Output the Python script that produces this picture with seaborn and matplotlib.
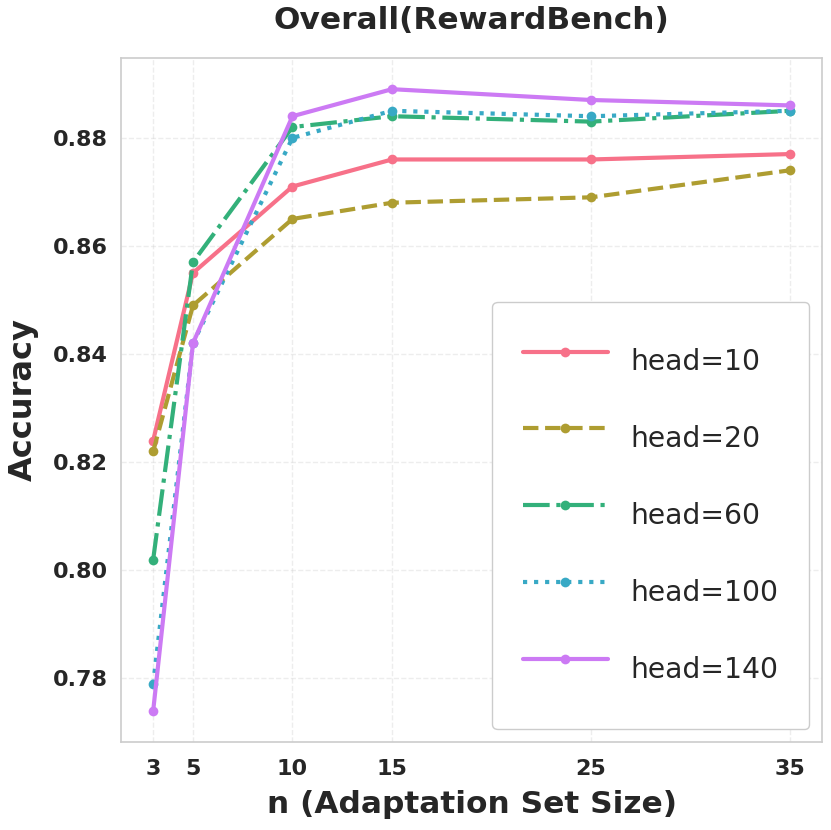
import matplotlib
matplotlib.use("Agg")
import matplotlib.pyplot as plt
import seaborn as sns
import pandas as pd

n_values = [3, 5, 10, 15, 25, 35]
heads = ["head=10", "head=20", "head=60", "head=100", "head=140"]
acc_head10 = [0.824, 0.855, 0.871, 0.876, 0.876, 0.877]
acc_head20 = [0.822, 0.849, 0.865, 0.868, 0.869, 0.874]
acc_head60 = [0.802, 0.857, 0.882, 0.884, 0.883, 0.885]
acc_head100 = [0.779, 0.842, 0.880, 0.885, 0.884, 0.885]
acc_head140 = [0.774, 0.842, 0.884, 0.889, 0.887, 0.886]

series = [acc_head10, acc_head20, acc_head60, acc_head100, acc_head140]
rows = []
for h, vals in zip(heads, series):
    for n, v in zip(n_values, vals):
        rows.append({"n": n, "acc": v, "head": h})
df = pd.DataFrame(rows)

sns.set_theme(style="whitegrid")
plt.rcParams["grid.linestyle"] = "--"
plt.rcParams["grid.alpha"] = 0.35

fig, ax = plt.subplots(figsize=(8.31, 8.30), dpi=100)
palette = sns.color_palette("husl", 5)
styles = ["-", "--", "-.", ":", "-"]
for h, ls, c in zip(heads, styles, palette):
    sub = df[df["head"] == h]
    sns.lineplot(data=sub, x="n", y="acc", ax=ax, color=c, linestyle=ls,
                 linewidth=3, marker="o", markersize=7, markeredgewidth=0,
                 label=h)

ax.set_xticks(n_values)
ax.set_xticklabels([str(n) for n in n_values])
for lab in ax.get_xticklabels() + ax.get_yticklabels():
    lab.set_fontweight("bold")
    lab.set_fontsize(16)
ax.tick_params(axis="x", pad=6)
ax.yaxis.set_major_formatter(matplotlib.ticker.FormatStrFormatter("%.2f"))
ax.set_title("Overall(RewardBench)", fontsize=22.5, fontweight="bold", pad=21)
ax.set_xlabel("n (Adaptation Set Size)", fontsize=22.5, fontweight="bold", labelpad=8)
ax.set_ylabel("Accuracy", fontsize=23, fontweight="bold", labelpad=10)
for s in ax.spines.values():
    s.set_color("#cccccc")
    s.set_linewidth(1.2)

ax.legend(loc="lower right", fontsize=20.3, handlelength=3.0, handleheight=2.8,
          handletextpad=0.8, labelspacing=0.66, borderpad=1.1,
          borderaxespad=0.45, framealpha=1, edgecolor="#cccccc")

plt.subplots_adjust(left=0.146, right=0.989, top=0.93, bottom=0.106)
fig.savefig("out.png", dpi=100)
